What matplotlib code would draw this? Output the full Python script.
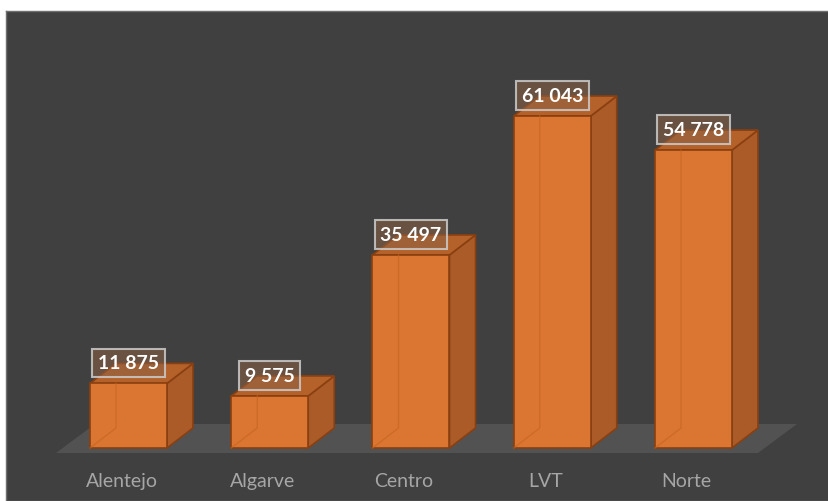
import matplotlib.pyplot as plt
from matplotlib.patches import Polygon, Rectangle

regions = ["Alentejo", "Algarve", "Centro", "LVT", "Norte"]
totals = [11875, 9575, 35497, 61043, 54778]
value_labels = ["11 875", "9 575", "35 497", "61 043", "54 778"]

plt.rcParams['font.family'] = ['Lato', 'DejaVu Sans']

W, H = 829, 502
fig = plt.figure(figsize=(W / 100, H / 100), dpi=100)
fig.patch.set_facecolor('white')

# dark chart area = axes background
ax = fig.add_axes([6 / W, 0, (W - 6) / W, (H - 12) / H])
ax.set_facecolor('#404040')
ax.set_xticks([])
ax.set_yticks([])
for s in ax.spines.values():
    s.set_color('#6f6f6f')
    s.set_linewidth(1)

# layout in pixels
step = 141.25          # px between categories
x0 = 128.5             # px of first category centre
base = 449             # px of value 0
yscale = 332 / 61043   # px per unit
ax.set_xlim((6 - x0) / step, (W - x0) / step)
ax.set_ylim((base - H) / yscale, (base - 12) / yscale)

w = 77 / step          # front face width
dx = 26 / step         # depth offset
dy = 20 / yscale

# floor
fx = lambda p: (p - x0) / step
fy = lambda p: (base - p) / yscale
floor = Polygon([(fx(56), fy(454)), (fx(758), fy(454)), (fx(797), fy(425)), (fx(95), fy(425))],
                closed=True, facecolor='#525252', edgecolor='none', zorder=1)
ax.add_patch(floor)

edge = '#8a3f10'
for i, v in enumerate(totals):
    l, r = i - w / 2, i + w / 2
    side = Polygon([(r, 0), (r + dx, dy), (r + dx, v + dy), (r, v)], closed=True,
                   facecolor='#aa5b27', edgecolor=edge, lw=1.2, zorder=3)
    top = Polygon([(l, v), (r, v), (r + dx, v + dy), (l + dx, v + dy)], closed=True,
                  facecolor='#b5622a', edgecolor=edge, lw=1.2, zorder=3)
    front = Rectangle((l, 0), w, v, facecolor='#da7632', edgecolor=edge, lw=1.2, zorder=4)
    ax.add_patch(side)
    ax.add_patch(top)
    ax.add_patch(front)
    # faint back edges seen through the face
    ax.plot([l, l + dx, l + dx], [0, dy, v], color='#c4641f', lw=1, alpha=0.6, zorder=5)

    ax.annotate(value_labels[i], (i, v), xytext=(0, 12), textcoords='offset pixels',
                ha='center', va='bottom', fontsize=14, fontweight='bold', color='white',
                zorder=6,
                bbox=dict(boxstyle='square,pad=0.3', fc=(0.55, 0.38, 0.27, 0.55),
                          ec=(0.8, 0.8, 0.8, 0.85), lw=1.5))

    ax.text(i - 7 / step, 0.041, regions[i], transform=ax.get_xaxis_transform(),
            ha='center', va='center', fontsize=14, color='#a6a6a6')

fig.savefig('out.png', dpi=100, facecolor='white')
